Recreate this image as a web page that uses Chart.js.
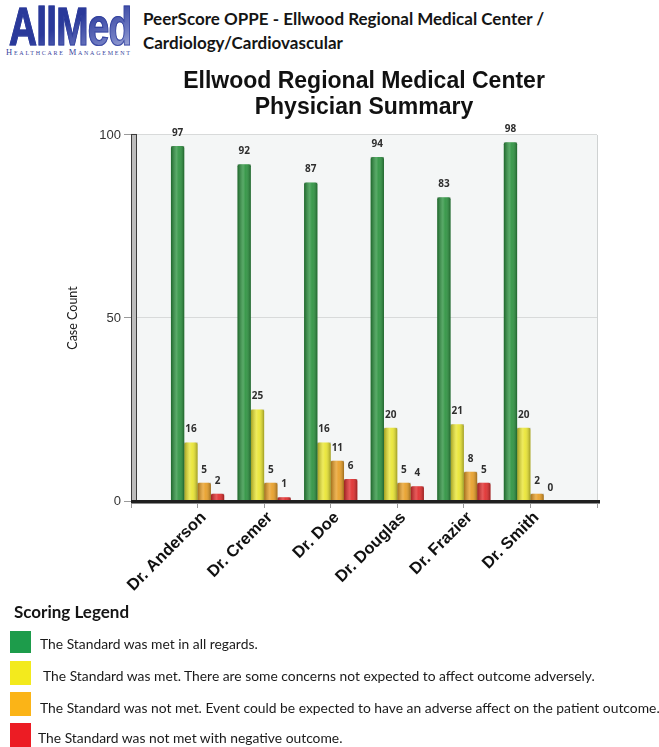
<!DOCTYPE html>
<html>
<head>
<meta charset="utf-8">
<title>PeerScore OPPE - Physician Summary</title>
<script src="https://cdn.jsdelivr.net/npm/chart.js@4.4.0/dist/chart.umd.min.js"></script>
<style>
  body { margin: 0; width: 659px; height: 747px; background: #fff; position: relative; overflow: hidden; font-family: Lato, "Open Sans", sans-serif; color: #111; }
  #logo { position: absolute; left: 9px; top: 0; width: 125px; height: 58px; }
  #logo .brand { position: absolute; left: 0; top: 0; font-family: "Liberation Sans", Arial, sans-serif; font-weight: bold; font-size: 53px; line-height: 53px; letter-spacing: -1px; transform: scaleX(0.73); transform-origin: left top; background: linear-gradient(160deg, #2a399a 45%, #6f7bc2 78%, #b5bbe0); -webkit-background-clip: text; background-clip: text; color: transparent; -webkit-text-stroke: 1.2px rgba(42,57,154,0.75); }
  #logo .sub { position: absolute; left: -3px; top: 47px; font-family: "Liberation Serif", serif; font-variant: small-caps; font-size: 8.5px; letter-spacing: 1.75px; color: #3a469e; white-space: nowrap; }
  #header { position: absolute; left: 143px; top: 7px; font-family: Lato, sans-serif; font-weight: bold; font-size: 17px; line-height: 24px; color: #151515; }
  #chartBox { position: absolute; left: 0; top: 60px; width: 659px; height: 560px; }
  #legendTitle { position: absolute; left: 14px; top: 601px; font-family: Lato, sans-serif; font-weight: bold; font-size: 17px; color: #151515; }
  .row { position: absolute; left: 0; width: 659px; white-space: nowrap; }
  .row .sw { position: absolute; left: 10px; width: 21px; }
  .row .tx { position: absolute; font-family: Lato, sans-serif; font-size: 13.85px; color: #1a1a1a; transform: translateY(-50%); }
</style>
</head>
<body>
<div id="logo"><div class="brand">AllMed</div><div class="sub">Healthcare Management</div></div>
<div id="header">PeerScore OPPE - Ellwood Regional Medical Center /<br>Cardiology/Cardiovascular</div>
<div id="chartBox"><canvas id="summaryChart" width="659" height="560"></canvas></div>

<div id="legendTitle">Scoring Legend</div>
<div id="legendRows"></div>

<script>
// categories and values
const categories = ["Dr. Anderson", "Dr. Cremer", "Dr. Doe", "Dr. Douglas", "Dr. Frazier", "Dr. Smith"];
const metAll = [97, 92, 87, 94, 83, 98];
const metConcerns = [16, 25, 16, 20, 21, 20];
const notMetAdverse = [5, 5, 11, 5, 8, 2];
const notMetNegative = [2, 1, 6, 4, 5, 0];
const yTicks = [0, 50, 100];

const legendTexts = [
    "The Standard was met in all regards.",
    "The Standard was met. There are some concerns not expected to affect outcome adversely.",
    "The Standard was not met. Event could be expected to have an adverse affect on the patient outcome.",
    "The Standard was not met with negative outcome."
];
const legendColors = ["#1d9c4b", "#f3ea1d", "#fbb417", "#ec1c24"];
const barColors = ["#2b923e", "#e9e530", "#e89e25", "#e02b2b"];

// empty slot on each side, like the original axis
const pad = arr => [null, ...arr, null];

// html legend under the chart
const rowTops = [631, 661, 692, 723];
const rowText = [{ x: 40, y: 643 }, { x: 43, y: 675 }, { x: 40, y: 707 }, { x: 38, y: 737 }];
const legendBox = document.getElementById("legendRows");
legendTexts.forEach((t, i) => {
    const row = document.createElement("div");
    row.className = "row";
    row.style.top = "0px";
    row.innerHTML = '<div class="sw" style="top:' + rowTops[i] + 'px;height:' + (i === 0 ? 22 : 24) + 'px;background:' + legendColors[i] + '"></div>' +
        '<div class="tx" style="left:' + rowText[i].x + 'px;top:' + rowText[i].y + 'px">' + t + '</div>';
    legendBox.appendChild(row);
});

// plot background, 3d wall/floor, bar shading and value labels
const plotDeco = {
    id: "plotDeco",
    beforeDraw(chart) {
        const { ctx, chartArea: a } = chart;
        ctx.save();
        ctx.fillStyle = "#f4f6f6";
        ctx.fillRect(a.left, a.top, a.right - a.left, a.bottom - a.top);
        ctx.strokeStyle = "#cfd2d2";
        ctx.lineWidth = 1;
        ctx.beginPath();
        ctx.moveTo(a.right + 0.5, a.top);
        ctx.lineTo(a.right + 0.5, a.bottom);
        ctx.stroke();
        ctx.restore();
    },
    afterDatasetsDraw(chart) {
        const { ctx, chartArea: a } = chart;
        ctx.save();
        // cylinder shading on each bar
        chart.data.datasets.forEach((ds, i) => {
            chart.getDatasetMeta(i).data.forEach((bar, j) => {
                if (ds.data[j] === null) return;
                const x0 = bar.x - bar.width / 2;
                const h = bar.base - bar.y;
                if (h <= 0) return;
                const g = ctx.createLinearGradient(x0, 0, x0 + bar.width, 0);
                g.addColorStop(0, "rgba(0,0,0,0.30)");
                g.addColorStop(0.42, "rgba(255,255,255,0.22)");
                g.addColorStop(0.6, "rgba(255,255,255,0.08)");
                g.addColorStop(1, "rgba(0,0,0,0.32)");
                ctx.fillStyle = g;
                ctx.fillRect(x0, bar.y, bar.width, h);
            });
        });
        // left wall
        ctx.fillStyle = "#bcbcbc";
        ctx.fillRect(a.left, a.top - 1, 5, a.bottom - a.top + 1);
        ctx.strokeStyle = "#3c3c3c";
        ctx.lineWidth = 1;
        ctx.strokeRect(a.left + 0.5, a.top - 0.5, 5, a.bottom - a.top);
        // floor
        ctx.fillStyle = "#1f1f1f";
        ctx.fillRect(a.left, a.bottom - 1, a.right - a.left + 3, 3);
        ctx.fillStyle = "#8a8a8a";
        ctx.fillRect(a.left, a.bottom + 2, a.right - a.left + 3, 1);
        // value labels
        ctx.fillStyle = "#2e2e2e";
        ctx.font = "bold 10px 'Open Sans', sans-serif";
        ctx.textAlign = "center";
        ctx.textBaseline = "middle";
        chart.data.datasets.forEach((ds, i) => {
            chart.getDatasetMeta(i).data.forEach((bar, j) => {
                if (ds.data[j] === null) return;
                ctx.fillText(ds.data[j], bar.x, bar.y - 13);
            });
        });
        ctx.restore();
    }
};

const seriesData = [metAll, metConcerns, notMetAdverse, notMetNegative];

const config = {
    type: "bar",
    data: {
        labels: ["", ...categories, ""],
        datasets: seriesData.map((vals, i) => ({
            label: legendTexts[i],
            data: pad(vals),
            backgroundColor: barColors[i],
            borderRadius: { topLeft: 2, topRight: 2 },
            borderSkipped: "bottom",
            categoryPercentage: 0.8,
            barPercentage: 1.0
        }))
    },
    options: {
        responsive: false,
        animation: false,
        layout: { padding: { left: 0, right: 62, top: 0, bottom: 0 } },
        plugins: {
            legend: { display: false },
            tooltip: { enabled: false },
            title: {
                display: true,
                fullSize: false,
                text: ["Ellwood Regional Medical Center", "Physician Summary"],
                color: "#111",
                font: { family: "'Liberation Sans', Arial, sans-serif", size: 23, weight: "bold", lineHeight: 1.13 },
                padding: { top: 9, bottom: 14 }
            }
        },
        scales: {
            x: {
                offset: false,
                grid: { offset: false, drawOnChartArea: false, tickLength: 7, tickColor: "#9a9a9a" },
                border: { display: false },
                ticks: {
                    autoSkip: false,
                    maxRotation: 45,
                    minRotation: 45,
                    padding: 0,
                    labelOffset: 6,
                    color: "#111",
                    font: { family: "'Liberation Sans', Arial, sans-serif", size: 16.5, weight: "bold" }
                },
                afterFit(scale) { scale.height = 119; }
            },
            y: {
                min: yTicks[0],
                max: yTicks[yTicks.length - 1],
                afterBuildTicks(scale) { scale.ticks = yTicks.map(v => ({ value: v })); },
                grid: { color: "#d8dada", tickColor: "#9a9a9a", tickLength: 7 },
                border: { display: false },
                ticks: {
                    padding: 3,
                    color: "#333",
                    font: { family: "'Liberation Sans', Arial, sans-serif", size: 13 }
                },
                title: {
                    display: true,
                    text: "Case Count",
                    color: "#1a1a1a",
                    font: { family: "Lato, sans-serif", size: 12.5 },
                    padding: { top: 65, bottom: 0 }
                },
                afterFit(scale) { scale.width = 131; }
            }
        }
    },
    plugins: [plotDeco]
};

const summaryChart = new Chart(document.getElementById("summaryChart"), config);
</script>
</body>
</html>
